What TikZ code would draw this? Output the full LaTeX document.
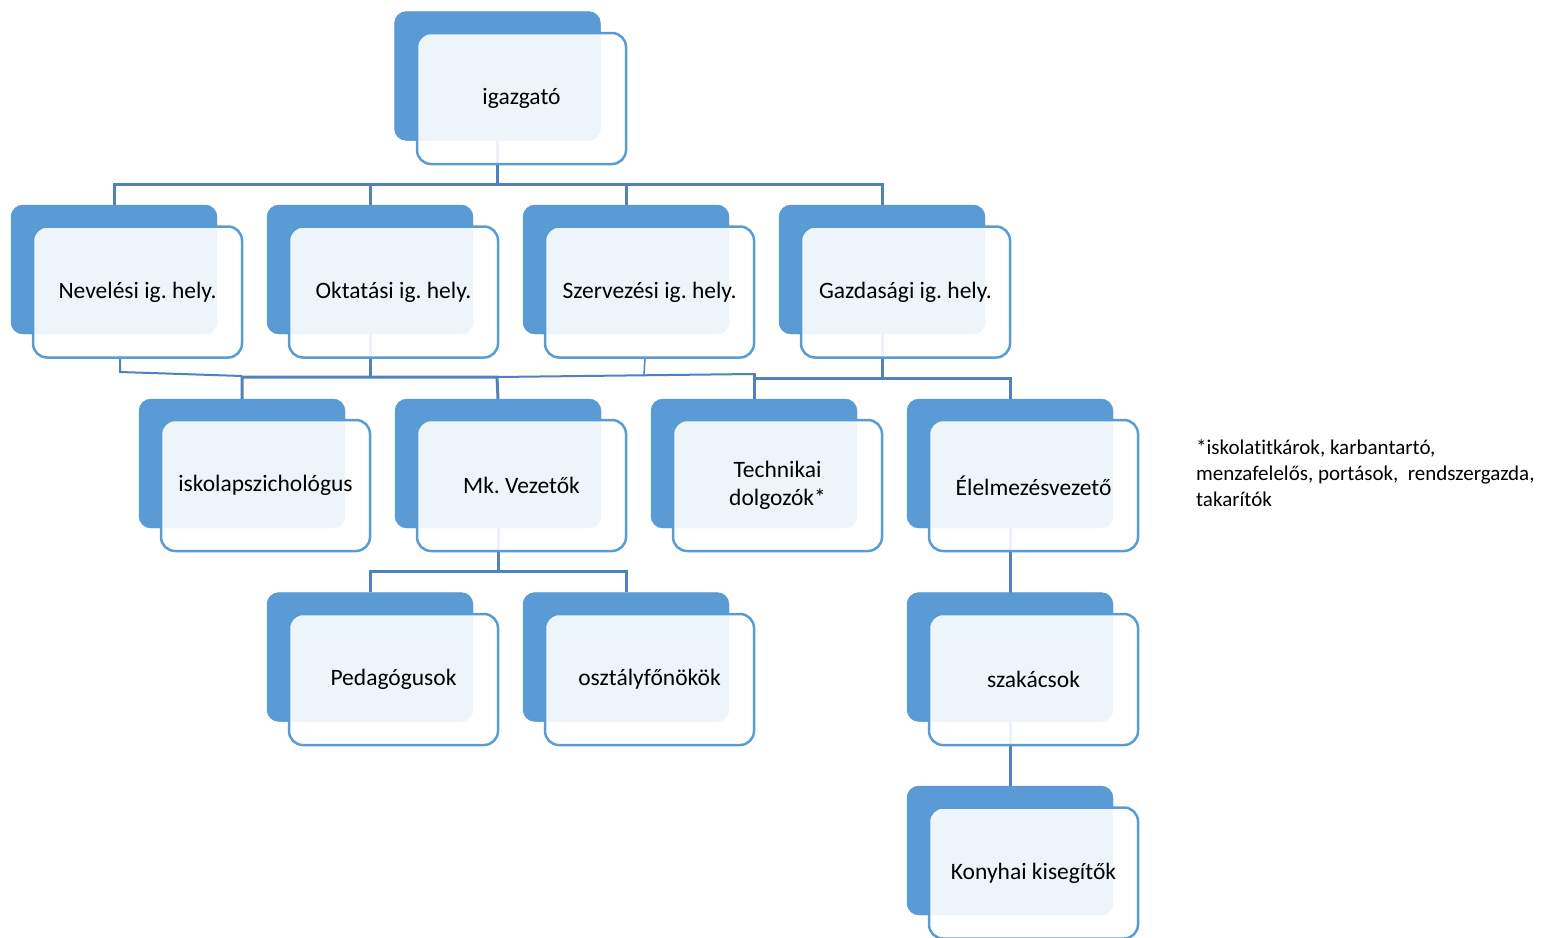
\documentclass[tikz,border=0pt]{standalone}
\usepackage{fontspec}
\setmainfont{Carlito}[RawFeature={-liga}]
\frenchspacing
\usetikzlibrary{calc}
\definecolor{acc}{RGB}{91,155,213}
\definecolor{conncol}{RGB}{79,129,189}
\begin{document}
\begin{tikzpicture}[x=1pt,y=-1pt,
  backbox/.style={rectangle,rounded corners=12pt,fill=acc,draw=none,minimum width=206pt,minimum height=129pt,inner sep=0pt},
  frontbox/.style={rectangle,rounded corners=14pt,draw=acc,line width=2.5pt,fill=white,fill opacity=0.9,text opacity=1,minimum width=209pt,minimum height=131pt,inner sep=2pt,align=center,font=\fontsize{23.5}{28}\selectfont},
  conn/.style={draw=conncol,line width=3pt,line join=miter}]
\clip (0,0) rectangle (1547,937);
% junction coordinates
\coordinate (j1) at (497.5,184);
\coordinate (nvt) at (120,355);
\coordinate (nv) at (120,372);
\coordinate (jL) at (242,376);
\coordinate (jM) at (497,377);
\coordinate (jS) at (753,374);
\coordinate (jR) at (753,378);
\coordinate (jE) at (1010,378);
\coordinate (szt) at (645,358);
\coordinate (szb) at (644,375);
\coordinate (j3) at (498,571);
% back boxes
\path (497.5,76) node[backbox] (b1) {};
\path (114,269.5) node[backbox] (b2a) {};
\path (370,269.5) node[backbox] (b2b) {};
\path (626,269.5) node[backbox] (b2c) {};
\path (882,269.5) node[backbox] (b2d) {};
\path (242,463.5) node[backbox] (b3a) {};
\path (498,463.5) node[backbox] (b3b) {};
\path (754,463.5) node[backbox] (b3c) {};
\path (1010,463.5) node[backbox] (b3d) {};
\path (370,657) node[backbox] (b4a) {};
\path (626,657) node[backbox] (b4b) {};
\path (1010,657) node[backbox] (b4c) {};
\path (1010,850.5) node[backbox] (b5) {};
% connectors
\draw[conn] (b1.center) -- (j1);
\draw[conn] (b2a.north) |- (j1) -| (b2d.north);
\draw[conn] (b2b.north) -- (b2b.north |- j1);
\draw[conn] (b2c.north) -- (b2c.north |- j1);
% level 2 -> 3
\draw[conn,line width=2pt] (nvt) -- (nv) -- (jL);
\draw[conn] (b3a.north) |- (jM) -- (b3b.north);
\draw[conn] (b2b.center) -- (b2b.center |- jM);
\draw[conn,line width=2pt] (jM) -- (jS);
\draw[conn,line width=1.5pt] (szt) -- (szb);
\draw[conn] (b3c.north) |- (jS);
\draw[conn] (jR) -- (jE) -- (b3d.north);
\draw[conn] (b2d.center) -- (b2d.center |- jE);
% level 3 -> 4
\draw[conn] (b3b.center) -- (j3);
\draw[conn] (b4a.north) |- (j3) -| (b4b.north);
\draw[conn] (b3d.center) -- (b4c.center);
\draw[conn] (b4c.center) -- (b5.center);
% back boxes drawn over the connectors
\foreach \n in {b1,b2a,b2b,b2c,b2d,b3a,b3b,b3c,b3d,b4a,b4b,b4c,b5}{
  \fill[acc,rounded corners=12pt] (\n.north west) rectangle (\n.south east);
}
% front boxes
\node[frontbox] (f1) at (521.5,98.5) {igazgató};
\node[frontbox] (f2a) at (137.5,292) {Nevelési ig. hely.};
\node[frontbox] (f2b) at (393.5,292) {Oktatási ig. hely.};
\node[frontbox] (f2c) at (649.5,292) {Szervezési ig. hely.};
\node[frontbox] (f2d) at (905.5,292) {Gazdasági ig. hely.};
\node[frontbox] (f3a) at (265.5,485.5) {iskolapszichológus};
\node[frontbox] (f3b) at (521.5,485.5) {Mk. Vezetők};
\node[frontbox] (f3c) at (777.5,485.5) {Technikai\\dolgozók*};
\node[frontbox] (f3d) at (1033.5,485.5) {Élelmezésvezető};
\node[frontbox] (f4a) at (393.5,679.5) {Pedagógusok};
\node[frontbox] (f4b) at (649.5,679.5) {osztályfőnökök};
\node[frontbox] (f4c) at (1033.5,679.5) {szakácsok};
\node[frontbox] (f5) at (1033.5,873) {Konyhai kisegítők};
% footnote
\node[anchor=west,align=left,inner sep=0pt,font=\fontsize{21}{26}\selectfont] (note) at (1196,473)
  {*iskolatitkárok, karbantartó,\\menzafelelős, portások,\ \ rendszergazda,\\takarítók};
\end{tikzpicture}
\end{document}
